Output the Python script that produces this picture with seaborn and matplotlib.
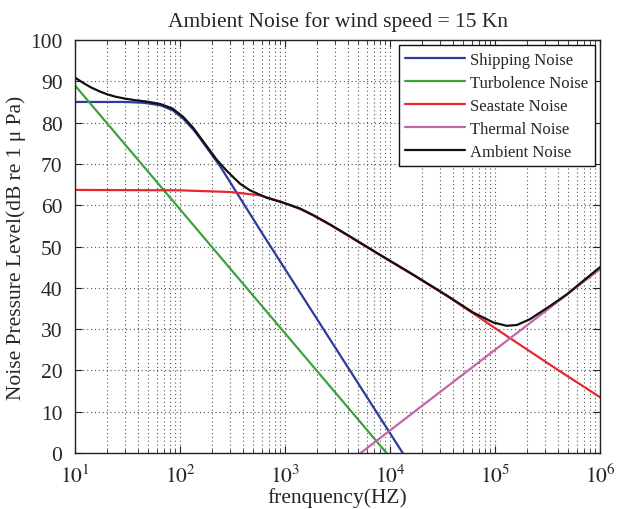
import numpy as np
import pandas as pd
import matplotlib
matplotlib.use("Agg")
import matplotlib.pyplot as plt
from matplotlib.ticker import LogLocator, FixedLocator, NullFormatter
import seaborn as sns

# ---- data ----
shipping_f = [10, 30, 45, 65, 85, 107, 134, 155, 240, 620, 4470, 15000]
shipping_db = [85.0, 85.0, 84.8, 84.2, 83.0, 81.0, 78.3, 76.2, 69.5, 52.8, 18.7, -2.2]

turbulence_f = [10, 10000]
turbulence_db = [89.0, -1.0]

seastate_f = [10, 100, 300, 575, 900, 1390, 1860, 2700, 3880, 8030, 16600, 34500,
              62000, 139000, 387000, 1000000]
seastate_db = [63.7, 63.6, 63.2, 62.4, 60.9, 59.1, 57.5, 55.2, 52.8, 47.9, 43.1, 38.1,
               33.8, 27.8, 20.3, 13.5]

thermal_f = [4000, 1000000]
thermal_db = [-2.3, 44.5]

ambient_f = [10, 12, 14, 17, 20, 24, 30, 38, 48, 65, 85, 107, 134, 155, 224, 279,
             373, 464, 670, 964, 1390, 1860, 2700, 3880, 8030, 16600, 34500, 62000,
             96400, 129000, 162000, 215000, 334000, 482000, 693000, 1000000]
ambient_db = [90.9, 89.6, 88.6, 87.6, 86.9, 86.3, 85.8, 85.4, 85.1, 84.5, 83.4,
              81.4, 78.7, 76.5, 71.0, 68.3, 65.2, 63.6, 61.8, 60.6, 59.2, 57.6,
              55.3, 52.9, 48.0, 43.2, 38.2, 34.0, 31.6, 30.8, 31.0, 32.4, 35.6,
              38.4, 41.7, 45.0]

series_names = ["Shipping Noise", "Turbolence Noise", "Seastate Noise",
                "Thermal Noise", "Ambient Noise"]
series_colors = ["#2e3a9c", "#3da23d", "#e8262b", "#c466a6", "#111111"]

title_text = "Ambient Noise for wind speed = 15 Kn"
xlabel_text = "frenquency(HZ)"
ylabel_text = "Noise Pressure Level(dB re 1 \u03bc Pa)"
yticks = list(range(0, 101, 10))
xticks = [1e1, 1e2, 1e3, 1e4, 1e5, 1e6]
xtick_labels = [r"$10^{1}$", r"$10^{2}$", r"$10^{3}$", r"$10^{4}$", r"$10^{5}$", r"$10^{6}$"]

frames = []
for name, f, v in zip(series_names,
                      [shipping_f, turbulence_f, seastate_f, thermal_f, ambient_f],
                      [shipping_db, turbulence_db, seastate_db, thermal_db, ambient_db]):
    frames.append(pd.DataFrame({"freq": f, "level": v, "series": name}))
df = pd.concat(frames, ignore_index=True)

sns.set_style("ticks")
plt.rcParams["font.family"] = ["Liberation Serif", "DejaVu Serif"]
plt.rcParams["mathtext.fontset"] = "stix"

fig = plt.figure(figsize=(6.27, 5.10), dpi=100)
ax = fig.add_axes([0.1196, 0.1098, 0.8374, 0.8098])

sns.lineplot(data=df, x="freq", y="level", hue="series", hue_order=series_names,
             palette=dict(zip(series_names, series_colors)), linewidth=1.6,
             sort=False, estimator=None, ax=ax, legend=True)

ax.set_xscale("log")
ax.set_xlim(10, 1e6)
ax.set_ylim(0, 100)
ax.set_yticks(yticks)
ax.set_yticklabels([str(t) for t in yticks])
ax.xaxis.set_major_locator(FixedLocator(xticks))
ax.set_xticklabels(xtick_labels)
ax.xaxis.set_minor_locator(LogLocator(base=10, subs=np.arange(2, 10), numticks=100))
ax.xaxis.set_minor_formatter(NullFormatter())

ax.grid(True, which="both", axis="x", linestyle=(0, (1, 2.5)), color="#555555", linewidth=0.8)
ax.grid(True, which="major", axis="y", linestyle=(0, (1, 2.5)), color="#555555", linewidth=0.8)

ax.tick_params(which="both", direction="in", top=True, right=True, labelsize=15.5, color="#222222")
ax.tick_params(which="major", length=5)
ax.tick_params(which="minor", length=3)
ax.tick_params(axis="x", which="major", pad=8)
ax.tick_params(axis="y", which="major", pad=9)
for s in ax.spines.values():
    s.set_color("#222222")
    s.set_linewidth(1.0)

ax.set_title(title_text, fontsize=15.5, pad=10)
ax.set_xlabel(xlabel_text, fontsize=15.5, labelpad=0)
ax.set_ylabel(ylabel_text, fontsize=15.5, labelpad=3)

handles, labels = ax.get_legend_handles_labels()
leg = ax.legend(handles, labels, loc="upper right", fontsize=12, frameon=True,
                fancybox=False, edgecolor="#111111", framealpha=1.0,
                borderaxespad=0.3, handlelength=3.6, labelspacing=0.42,
                handletextpad=0.3, borderpad=0.4)
leg.get_frame().set_linewidth(1.0)
for line in leg.get_lines():
    line.set_linewidth(1.6)

fig.savefig("out.png", dpi=100)
